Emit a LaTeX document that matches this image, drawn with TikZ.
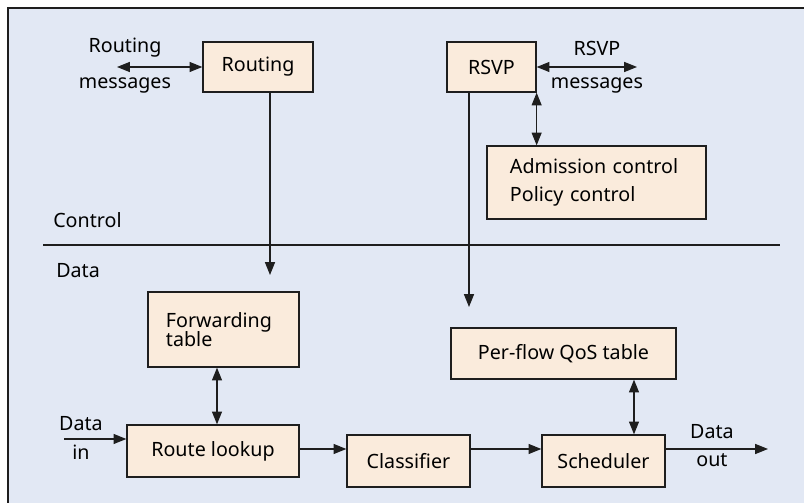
\documentclass[tikz,border=0pt]{standalone}
\usepackage{fontspec}
\setmainfont{Noto Sans}
\usetikzlibrary{arrows.meta}
\definecolor{bgblue}{HTML}{E2E8F4}
\definecolor{boxfill}{HTML}{FAEBDC}
\definecolor{edge}{HTML}{1E1E1E}
\tikzset{
  box/.style = {draw=edge, fill=boxfill, line width=0.9pt, inner sep=0pt, align=center},
  link/.style = {draw=edge, line width=0.75pt, -{Triangle[length=0.32cm, width=0.25cm]}},
  both/.style = {link, {Triangle[length=0.32cm, width=0.25cm]}-{Triangle[length=0.32cm, width=0.25cm]}},
  lbl/.style = {inner sep=0pt}
}
\begin{document}
\fontsize{14}{16.5}\selectfont
\begin{tikzpicture}[x=0.025cm, y=-0.025cm]
\useasboundingbox (0,0) rectangle (804,503);
\fill[bgblue] (8,8) rectangle (804,503);
\draw[edge, line width=1.2pt] (8,503) -- (8,8) -- (804,8);

% control plane
\node[box, minimum width=2.75cm, minimum height=1.25cm] (routing) at (258,67) {Routing};
\node[box, minimum width=2.225cm, minimum height=1.25cm] (rsvp) at (491.5,67) {RSVP};
\node[box, minimum width=5.475cm, minimum height=1.825cm, text width=4.325cm, align=left,
  inner xsep=0.575cm, font=\fontsize{14}{19.5}\selectfont] (adm) at (596.5,182.5)
  {Admission control\\Policy control};

\coordinate (rmsg) at (117,67);
\coordinate (smsg) at (637,67);
\node[lbl] (rmsgtop) at (125,48) {Routing};
\node[lbl] (rmsgbot) at (125,85) {messages};
\node[lbl] (smsgtop) at (597,48) {RSVP};
\node[lbl] (smsgbot) at (597,85) {messages};
\draw[both] (rmsg) -- (routing.west);
\draw[both] (rsvp.east) -- (smsg);
\draw[both] (rsvp.south east) -- (rsvp.south east |- adm.north);

% control / data separator
\draw[edge, line width=1.4pt] (43,245) -- (780,245);
\node[lbl, anchor=west] (ctrl) at (53,220) {Control};
\node[lbl, anchor=west] (data) at (56,271) {Data};

% data plane
\node[box, minimum width=3.675cm, minimum height=1.875cm, text width=2.875cm, align=left,
  inner xsep=0.45cm, font=\fontsize{14}{14}\selectfont] (fwd) at (223.5,329.5)
  {Forwarding\\table};
\node[box, minimum width=4.3cm, minimum height=1.3cm] (lookup) at (213,451) {Route lookup};
\node[box, minimum width=3.075cm, minimum height=1.3cm] (cls) at (408.5,461) {Classifier};
\node[box, minimum width=3.075cm, minimum height=1.3cm] (sched) at (603.5,461) {Scheduler};
\node[box, minimum width=5.625cm, minimum height=1.275cm] (qos) at (563.5,353.5) {Per-flow QoS table};

\coordinate (rtip) at (270,275);
\coordinate (stip) at (469,307);
\coordinate (fwdx) at (217,0);
\coordinate (qosx) at (634,0);
\coordinate (din) at (64,439);
\coordinate (flow) at (0,449);
\coordinate (dout) at (768,449);

\draw[link] (routing.south -| rtip) -- (rtip);
\draw[link] (rsvp.south -| stip) -- (stip);
\draw[both] (fwd.south -| fwdx) -- (lookup.north -| fwdx);
\draw[both] (qos.south -| qosx) -- (sched.north -| qosx);
\draw[link] (din) -- (lookup.west |- din);
\draw[link] (lookup.east |- flow) -- (cls.west |- flow);
\draw[link] (cls.east |- flow) -- (sched.west |- flow);
\draw[link] (sched.east |- flow) -- (dout);

\node[lbl] (intop) at (81,424) {Data};
\node[lbl] (inbot) at (81,452) {in};
\node[lbl] (outtop) at (712,432) {Data};
\node[lbl] (outbot) at (712,460) {out};
\end{tikzpicture}
\end{document}
